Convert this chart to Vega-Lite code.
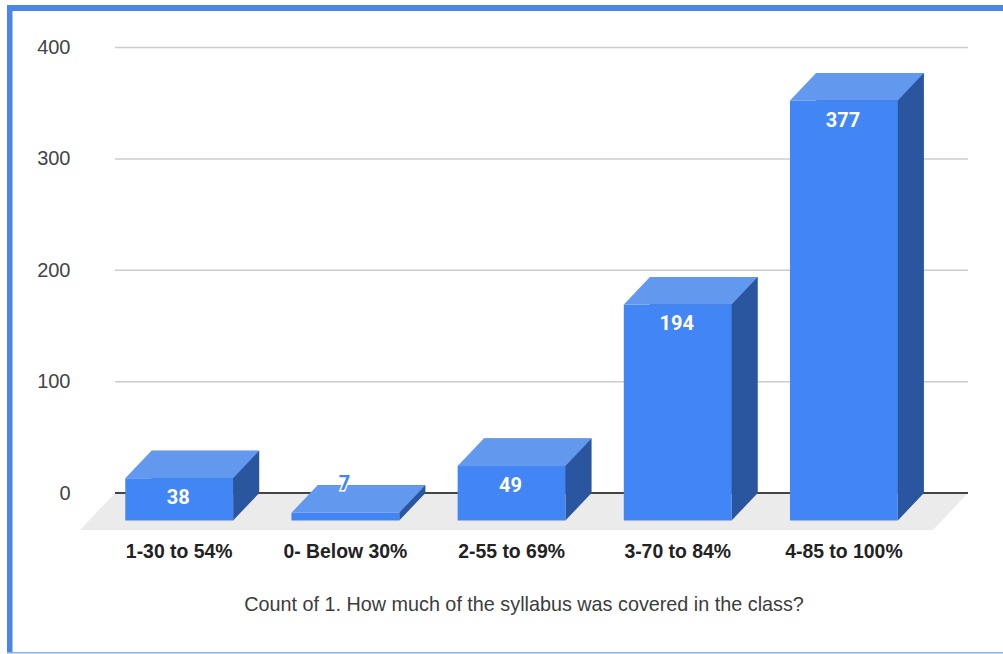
{
"$schema":"https://vega.github.io/schema/vega-lite/v6.json",
"width":853,"height":445.5,
"autosize":{"type":"none"},
"padding":{"left":115,"top":47.5,"right":35,"bottom":161},
"background":"#ffffff",
"config":{"view":{"stroke":null}},
"datasets":{
"bars":[
{"range":"1-30 to 54%","count":38,"base":0},
{"range":"0- Below 30%","count":7,"base":0},
{"range":"2-55 to 69%","count":49,"base":0},
{"range":"3-70 to 84%","count":194,"base":0},
{"range":"4-85 to 100%","count":377,"base":0}
],
"grid":[{"tick":100},{"tick":200},{"tick":300},{"tick":400}],
"zero":[{"tick":0}]
},
"data":{"name":"bars"},
"encoding":{
"x":{"field":"range","type":"nominal","sort":null,
"scale":{"range":[-18.8,811.9],"paddingInner":0.351,"paddingOuter":0.175},
"axis":{"title":"Count of 1. How much of the syllabus was covered in the class?","domain":false,"ticks":false,"grid":false,"labelAngle":0,"labelPadding":58,"labelFont":"Liberation Sans","labelFontSize":19.4,"labelFontWeight":"bold","labelColor":"#222222","labelBaseline":"middle","titleFont":"Liberation Sans","titleFontSize":19.8,"titleFontWeight":"normal","titleColor":"#3c3c3c","titleX":408.5,"titleY":111,"titleBaseline":"middle"}},
"y":{"field":"count","type":"quantitative",
"scale":{"domain":[0,400],"nice":false},
"axis":{"title":null,"values":[0,100,200,300,400],"domain":false,"ticks":false,"grid":false,"labelPadding":45,"labelFont":"Liberation Sans","labelFontSize":20,"labelColor":"#444444"}}
},
"layer":[
{"data":{"name":"grid"},"mark":{"type":"rule","color":"#cccccc","strokeWidth":1.5},"encoding":{"x":{"value":0},"x2":{"value":853},"y":{"field":"tick","type":"quantitative"}}},
{"data":{"name":"zero"},"mark":{"type":"point","filled":true,"opacity":1,"size":4,"color":"#ebebeb","shape":"M-35,37 L0,0 L853,0 L818,37 Z"},
 "encoding":{"x":{"value":0},"y":{"field":"tick","type":"quantitative"}}},
{"data":{"name":"zero"},"mark":{"type":"rule","color":"#444444","strokeWidth":2},"encoding":{"x":{"value":0},"x2":{"value":853},"y":{"field":"tick","type":"quantitative"}}},
{"mark":{"type":"bar","color":"#2a559f","xOffset":26.1},"encoding":{"y":{"field":"count","type":"quantitative","stack":null}}},
{"mark":{"type":"point","filled":true,"opacity":1,"size":4,"color":"#2a559f","shape":"M53.9,27.5 L80,0 L53.9,0 Z"},"encoding":{"y":{"field":"base","type":"quantitative"}}},
{"mark":{"type":"bar","color":"#4285f4","yOffset":27.5,"y2Offset":27.5},"encoding":{"y":{"field":"count","type":"quantitative","stack":null},"y2":{"field":"base"}}},
{"mark":{"type":"point","filled":true,"opacity":1,"size":4,"color":"#6398ef","shape":"M-53.9,27.5 L-27.8,0 L80,0 L53.9,27.5 Z"}},
{"transform":[{"filter":"datum.count >= 10"}],"mark":{"type":"text","font":"Roboto","fontSize":20,"fontWeight":"bold","color":"#ffffff","baseline":"middle","yOffset":47.5,"dx":-1},"encoding":{"text":{"field":"count","type":"quantitative"}}},
{"transform":[{"filter":"datum.count < 10"}],"mark":{"type":"text","font":"Roboto","fontSize":20,"fontWeight":"bold","stroke":"#ffffff","strokeWidth":3,"baseline":"middle","yOffset":-1,"dx":-1},"encoding":{"text":{"field":"count","type":"quantitative"}}},
{"transform":[{"filter":"datum.count < 10"}],"mark":{"type":"text","font":"Roboto","fontSize":20,"fontWeight":"bold","color":"#4285f4","baseline":"middle","yOffset":-1,"dx":-1},"encoding":{"text":{"field":"count","type":"quantitative"}}},
{"data":{"name":"zero"},"mark":{"type":"point","filled":true,"opacity":1,"size":4,"color":"#4a86e8","shape":"M7,5 L1003,5 L1003,11 L12.5,11 L12.5,652 L7,652 Z"},"encoding":{"x":{"value":-115},"y":{"value":-47.5}}},
{"data":{"name":"zero"},"mark":{"type":"point","filled":true,"opacity":1,"size":4,"color":"#8ab0f0","shape":"M7,652 L1003,652 L1003,653.5 L7,653.5 Z"},"encoding":{"x":{"value":-115},"y":{"value":-47.5}}}
]
}
